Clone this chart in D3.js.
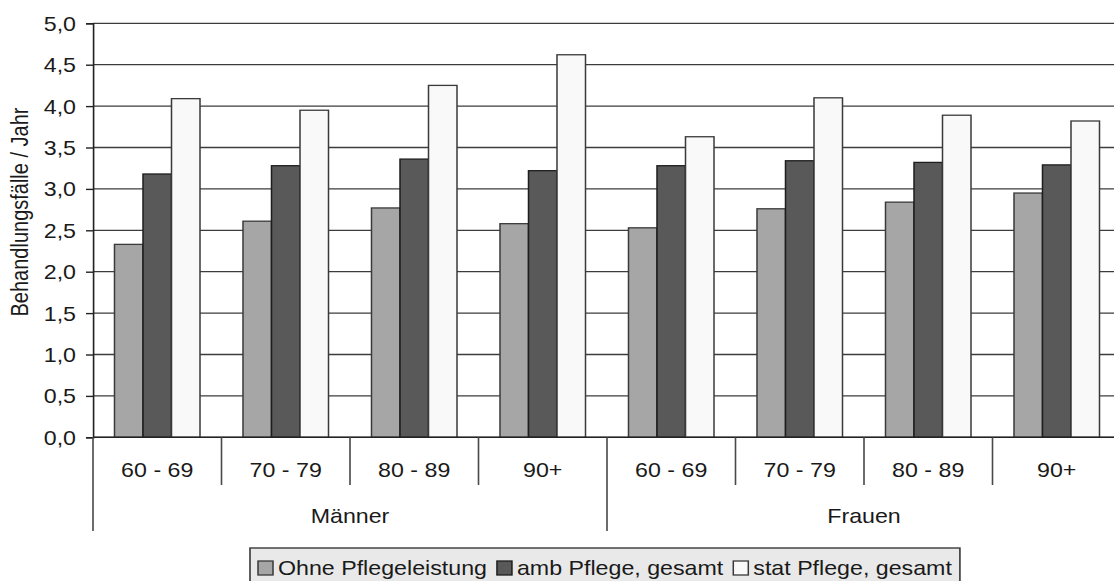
<!DOCTYPE html>
<html>
<head>
<meta charset="utf-8">
<script src="https://cdn.jsdelivr.net/npm/d3@7"></script>
<style>
  html, body { margin: 0; padding: 0; background: #fff; overflow: hidden; }
  svg { display: block; }
  text { font-family: "Liberation Sans", Arial, sans-serif; fill: #1a1a1a; }
</style>
</head>
<body>
<svg id="chart"></svg>
<script>
// ---- data ----
const genders = ["Männer", "Frauen"];
const ages = ["60 - 69", "70 - 79", "80 - 89", "90+"];
const seriesNames = ["Ohne Pflegeleistung", "amb Pflege, gesamt", "stat Pflege, gesamt"];
const ohne = [2.33, 2.61, 2.77, 2.58, 2.53, 2.76, 2.84, 2.95];
const amb  = [3.18, 3.28, 3.36, 3.22, 3.28, 3.34, 3.32, 3.29];
const stat = [4.09, 3.95, 4.25, 4.62, 3.63, 4.10, 3.89, 3.82];
const yTicks = [0, 0.5, 1, 1.5, 2, 2.5, 3, 3.5, 4, 4.5, 5];
const yTickLabels = ["0,0", "0,5", "1,0", "1,5", "2,0", "2,5", "3,0", "3,5", "4,0", "4,5", "5,0"];
const yTitle = "Behandlungsfälle / Jahr";

// ---- styles ----
const fills = ["#a6a6a6", "#595959", "#f9f9f9"];
const strokes = ["#3a3a3a", "#1e1e1e", "#3a3a3a"];

// the reference is stretched horizontally; draw in a narrower user space
const W = 1114, H = 581, VW = 960;
const s = W / VW;
const X = px => px / s;

const svg = d3.select("#chart")
  .attr("width", W).attr("height", H)
  .attr("viewBox", `0 0 ${VW} ${H}`)
  .attr("preserveAspectRatio", "none");

const seriesValues = [ohne, amb, stat];
const categories = genders.flatMap(g => ages.map(a => g + "|" + a));
const table = categories.map((c, i) => ({
  key: c,
  values: seriesNames.map((n, j) => ({ name: n, j, v: seriesValues[j][i] }))
}));

const plotLeft = X(93), plotRight = X(1121);
const y = d3.scaleLinear().domain([0, 5]).range([437.3, 23.3]);
const x0 = d3.scaleBand().domain(categories).range([plotLeft, plotRight]).paddingInner(0).paddingOuter(0);
const x1 = d3.scaleBand().domain(seriesNames).range([0, x0.bandwidth()]).paddingInner(0).paddingOuter(0.754);

// gridlines
svg.append("g").selectAll("line").data(yTicks).join("line")
  .attr("x1", plotLeft).attr("x2", plotRight)
  .attr("y1", d => y(d)).attr("y2", d => y(d))
  .attr("stroke", "#3c3c3c").attr("stroke-width", 1.3);

// bars
const gBars = svg.append("g");
gBars.selectAll("g").data(table).join("g")
  .attr("transform", d => `translate(${x0(d.key)},0)`)
  .selectAll("rect").data(d => d.values).join("rect")
  .attr("x", d => x1(d.name))
  .attr("width", x1.bandwidth())
  .attr("y", d => y(d.v))
  .attr("height", d => y(0) - y(d.v))
  .attr("fill", d => fills[d.j])
  .attr("stroke", d => strokes[d.j])
  .attr("stroke-width", 1.3);

// baseline
svg.append("line")
  .attr("x1", plotLeft).attr("x2", plotRight)
  .attr("y1", y(0)).attr("y2", y(0))
  .attr("stroke", "#222").attr("stroke-width", 1.6);

// y axis
const yAxis = d3.axisLeft(y)
  .tickValues(yTicks)
  .tickFormat((d, i) => yTickLabels[i])
  .tickSize(X(7)).tickSizeOuter(X(7)).tickPadding(X(10));
const gy = svg.append("g").attr("transform", `translate(${plotLeft},0)`).call(yAxis);
gy.attr("font-size", null).attr("font-family", null);
gy.selectAll("path, line").attr("stroke", "#222").attr("stroke-width", 1.4);
gy.selectAll("text").style("font-size", "20px").attr("fill", "#1a1a1a").attr("dy", "0.35em");

// y title
svg.append("text")
  .attr("transform", `translate(${X(28)},212) rotate(-90)`)
  .attr("text-anchor", "middle")
  .style("font-size", "20px")
  .text(yTitle);

// category axis dividers
const bw = x0.bandwidth();
const dividers = d3.range(categories.length + 1);
svg.append("g").selectAll("line").data(dividers).join("line")
  .attr("x1", i => plotLeft + i * bw).attr("x2", i => plotLeft + i * bw)
  .attr("y1", y(0))
  .attr("y2", i => (i % ages.length === 0) ? 531 : 485)
  .attr("stroke", "#4a4a4a").attr("stroke-width", 1.4);

// age labels
svg.append("g").selectAll("text").data(categories).join("text")
  .attr("x", d => x0(d) + bw / 2)
  .attr("y", 477)
  .attr("text-anchor", "middle")
  .style("font-size", "20px")
  .text(d => d.split("|")[1]);

// gender labels
svg.append("g").selectAll("text").data(genders).join("text")
  .attr("x", g => {
    const first = x0(g + "|" + ages[0]);
    const last = x0(g + "|" + ages[ages.length - 1]) + bw;
    return (first + last) / 2;
  })
  .attr("y", 523)
  .attr("text-anchor", "middle")
  .style("font-size", "20px")
  .text(g => g);

// legend
const gl = svg.append("g");
const legBox = gl.append("rect")
  .attr("fill", "#e9e9e9").attr("stroke", "#3a3a3a").attr("stroke-width", 1.4);
let cx = X(258);
seriesNames.forEach((n, j) => {
  gl.append("rect")
    .attr("x", cx).attr("y", 561)
    .attr("width", X(15)).attr("height", 14)
    .attr("fill", fills[j]).attr("stroke", strokes[j]).attr("stroke-width", 1.3);
  const t = gl.append("text")
    .attr("x", cx + X(20)).attr("y", 575)
    .style("font-size", "20px")
    .text(n);
  const w = t.node().getComputedTextLength();
  cx = cx + X(20) + w + X(10);
});
legBox.attr("x", X(250)).attr("y", 548)
  .attr("width", cx - X(10) + X(8) - X(250))
  .attr("height", 40);
</script>
</body>
</html>
